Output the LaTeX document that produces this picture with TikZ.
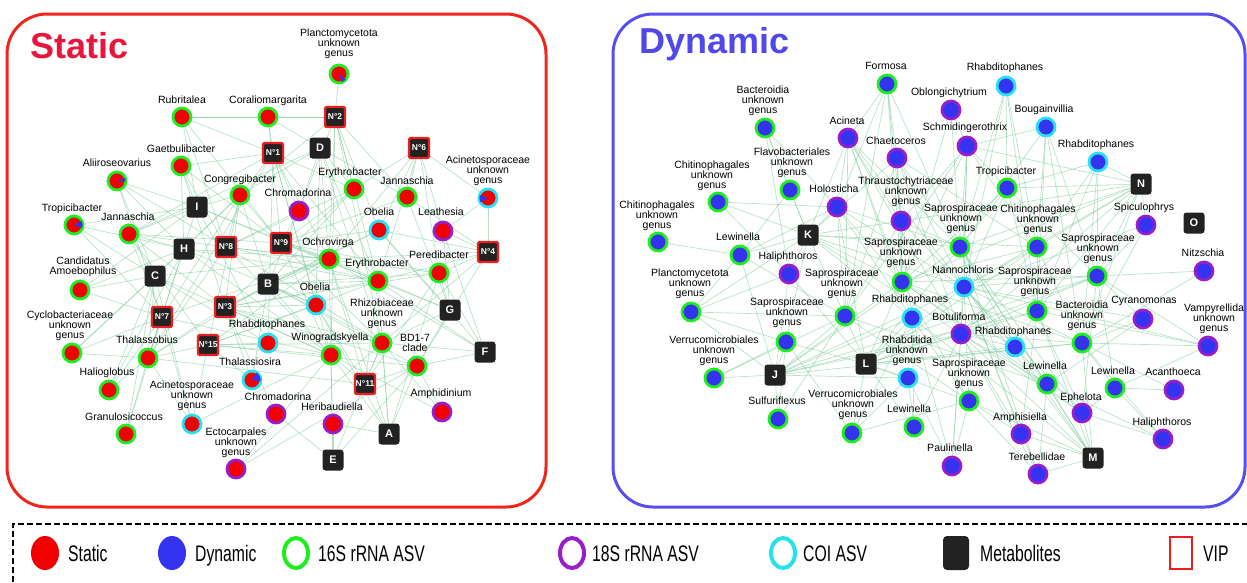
\documentclass[tikz,border=0pt]{standalone}
\usepackage{fontspec}
\setmainfont{Liberation Sans}
\newfontfamily\legfont[FakeStretch=0.7]{Liberation Sans}
\usetikzlibrary{backgrounds}
\definecolor{titlered}{RGB}{232,22,58}
\definecolor{boxred}{RGB}{238,38,30}
\definecolor{titleblue}{RGB}{80,72,232}
\definecolor{boxblue}{RGB}{88,78,240}
\definecolor{nred}{RGB}{240,0,0}
\definecolor{nblue}{RGB}{52,52,240}
\definecolor{ring16}{RGB}{30,238,30}
\definecolor{ring18}{RGB}{150,30,205}
\definecolor{ringcoi}{RGB}{40,225,240}
\definecolor{metab}{RGB}{34,34,34}
\definecolor{vipred}{RGB}{236,30,30}
\definecolor{edgecol}{RGB}{120,200,150}
\tikzset{
  tax/.style={circle, minimum size=18pt, inner sep=0pt, line width=2.8pt},
  g/.style={draw=ring16},
  p/.style={draw=ring18},
  c/.style={draw=ringcoi},
  lbl/.style={anchor=south, inner sep=0pt, align=center, text depth=0pt,
    font=\fontsize{10.5}{10}\selectfont},
  met/.style={rectangle, rounded corners=3pt, fill=metab, minimum size=21pt,
    inner sep=0pt, text=white, font=\bfseries\fontsize{11}{11}\selectfont},
  vip/.style={rectangle, rounded corners=2pt, fill=metab, draw=vipred, line width=2.4pt,
    minimum size=20pt, inner sep=0pt, text=white, font=\bfseries\fontsize{8.5}{8.5}\selectfont},
  edge/.style={draw=edgecol, line width=0.65pt, opacity=0.55},
  panel/.style={rounded corners=40pt, line width=3pt},
  legtxt/.style={anchor=base west, inner sep=0pt, font=\legfont\fontsize{22.5}{22.5}\selectfont},
}
% name, x, y, fill, ring, label x, label baseline y, label text
\newcommand\tx[8]{%
  \node[tax, fill=#4, #5] (#1) at (#2,#3) {};
  \node[lbl] (#1l) at (#6,#7) {#8};}
\newcommand\bluewedge[3]{%
  \fill[nblue] (#1.center) -- ++(#2:8.6pt) arc[start angle=#2, end angle=#3, radius=8.6pt] -- cycle;}
\begin{document}
\begin{tikzpicture}[x=1pt, y=-1pt]
\useasboundingbox (0,0) rectangle (1247,582);
\clip (0,0) rectangle (1247,582);

% panels
\draw[panel, draw=boxred] (7,14) rectangle (546,507);
\draw[panel, draw=boxblue] (613,14) rectangle (1245,507);
\node[anchor=base west, inner sep=0pt, text=titlered, font=\bfseries\fontsize{36}{36}\selectfont] (tstatic) at (30,58) {Static};
\node[anchor=base west, inner sep=0pt, text=titleblue, font=\bfseries\fontsize{36}{36}\selectfont] (tdyn) at (639,53) {Dynamic};

% ---------------- Static panel ----------------
\tx{s1}{339}{74}{nred}{g}{339}{57}{Planctomycetota\\unknown\\genus}
\tx{s2}{182}{117}{nred}{g}{182}{104}{Rubritalea}
\tx{s3}{268}{117}{nred}{g}{268}{104}{Coraliomargarita}
\tx{s4}{181}{166}{nred}{g}{181}{153}{Gaetbulibacter}
\tx{s5}{117}{181}{nred}{g}{117}{167}{Aliiroseovarius}
\tx{s6}{240}{195}{nred}{g}{240}{183}{Congregibacter}
\tx{s7}{354}{189}{nred}{g}{350}{176}{Erythrobacter}
\tx{s8}{407}{197}{nred}{g}{407}{185}{Jannaschia}
\tx{s9}{488}{198}{nred}{c}{488}{184}{Acinetosporaceae\\unknown\\genus}
\tx{s10}{299}{211}{nred}{p}{298}{197}{Chromadorina}
\tx{s11}{74}{225}{nred}{g}{72}{212}{Tropicibacter}
\tx{s12}{129}{234}{nred}{g}{128}{221}{Jannaschia}
\tx{s13}{379}{230}{nred}{c}{379}{216}{Obelia}
\tx{s14}{443}{231}{nred}{p}{441}{216}{Leathesia}
\tx{s15}{329}{259}{nred}{g}{328}{246}{Ochrovirga}
\tx{s16}{439}{273}{nred}{g}{439}{259}{Peredibacter}
\tx{s17}{378}{281}{nred}{g}{377}{267}{Erythrobacter}
\tx{s18}{80}{290}{nred}{g}{83}{275}{Candidatus\\Amoebophilus}
\tx{s19}{316}{305}{nred}{c}{315}{291}{Obelia}
\tx{s20}{382}{343}{nred}{g}{382}{327}{Rhizobiaceae\\unknown\\genus}
\tx{s21}{72}{353}{nred}{g}{70}{339}{Cyclobacteriaceae\\unknown\\genus}
\tx{s22}{148}{358}{nred}{g}{147}{344}{Thalassobius}
\tx{s23}{268}{343}{nred}{c}{267}{328}{Rhabditophanes}
\tx{s24}{331}{355}{nred}{g}{330}{341}{Winogradskyella}
\tx{s25}{417}{366}{nred}{g}{415}{352}{BD1-7\\clade}
\tx{s26}{109}{390}{nred}{g}{107}{376}{Halioglobus}
\tx{s27}{252}{380}{nred}{c}{250}{366}{Thalassiosira}
\tx{s28}{442}{412}{nred}{p}{441}{397}{Amphidinium}
\tx{s29}{192}{424}{nred}{c}{192}{409}{Acinetosporaceae\\unknown\\genus}
\tx{s30}{276}{414}{nred}{p}{278}{401}{Chromadorina}
\tx{s31}{333}{424}{nred}{p}{332}{411}{Heribaudiella}
\tx{s32}{126}{434}{nred}{g}{124}{421}{Granulosicoccus}
\tx{s33}{236}{469}{nred}{p}{236}{456}{Ectocarpales\\unknown\\genus}
\bluewedge{s11}{-20}{30}
\bluewedge{s27}{-10}{60}
\bluewedge{s9}{160}{210}
\bluewedge{s1}{-70}{-40}
\bluewedge{s5}{0}{20}

\node[vip] (v1) at (273,153) {N°1};
\node[vip] (v2) at (335,117) {N°2};
\node[vip] (v3) at (225,307) {N°3};
\node[vip] (v4) at (488,252) {N°4};
\node[vip] (v6) at (419,148) {N°6};
\node[vip] (v7) at (162,317) {N°7};
\node[vip] (v8) at (226,247) {N°8};
\node[vip] (v9) at (281,243) {N°9};
\node[vip] (v11) at (365,384) {N°11};
\node[vip] (v15) at (208,345) {N°15};
\node[met] (mA) at (389,434) {A};
\node[met] (mB) at (268,284) {B};
\node[met] (mC) at (155,276) {C};
\node[met] (mD) at (320,148) {D};
\node[met] (mE) at (333,460) {E};
\node[met] (mF) at (485,352) {F};
\node[met] (mG) at (450,310) {G};
\node[met] (mH) at (184,249) {H};
\node[met] (mI) at (197,207) {I};

% ---------------- Dynamic panel ----------------
\tx{d1}{887}{84}{nblue}{g}{886}{70}{Formosa}
\tx{d2}{765}{128}{nblue}{g}{763}{114}{Bacteroidia\\unknown\\genus}
\tx{d3}{848}{138}{nblue}{p}{847}{125}{Acineta}
\tx{d4}{897}{158}{nblue}{p}{896}{145}{Chaetoceros}
\tx{d5}{790}{190}{nblue}{g}{792}{176}{Flavobacteriales\\unknown\\genus}
\tx{d6}{718}{202}{nblue}{g}{712}{189}{Chitinophagales\\unknown\\genus}
\tx{d7}{837}{207}{nblue}{p}{834}{193}{Holosticha}
\tx{d8}{658}{242}{nblue}{g}{657}{229}{Chitinophagales\\unknown\\genus}
\tx{d10}{901}{221}{nblue}{p}{906}{205}{Thraustochytriaceae\\unknown\\genus}
\tx{d11}{1006}{86}{nblue}{c}{1005}{71}{Rhabditophanes}
\tx{d12}{951}{110}{nblue}{p}{949}{96}{Oblongichytrium}
\tx{d13}{1046}{127}{nblue}{c}{1044}{113}{Bougainvillia}
\tx{d14}{967}{146}{nblue}{p}{965}{131}{Schmidingerothrix}
\tx{d15}{1098}{162}{nblue}{c}{1096}{148}{Rhabditophanes}
\tx{d16}{1007}{188}{nblue}{g}{1006}{175}{Tropicibacter}
\tx{d18}{1146}{225}{nblue}{p}{1144}{211}{Spiculophrys}
\tx{d20}{960}{247}{nblue}{g}{961}{232}{Saprospiraceae\\unknown\\genus}
\tx{d21}{1037}{247}{nblue}{g}{1038}{233}{Chitinophagales\\unknown\\genus}
\tx{d22}{1097}{276}{nblue}{g}{1098}{262}{Saprospiraceae\\unknown\\genus}
\tx{d23}{1204}{271}{nblue}{p}{1203}{257}{Nitzschia}
\tx{d24}{902}{282}{nblue}{g}{901}{266}{Saprospiraceae\\unknown\\genus}
\tx{d25}{789}{274}{nblue}{p}{788}{260}{Haliphthoros}
\tx{d26}{964}{287}{nblue}{c}{963}{274}{Nannochloris}
\tx{d27}{845}{316}{nblue}{g}{842}{297}{Saprospiraceae\\unknown\\genus}
\tx{d28}{912}{318}{nblue}{c}{910}{303}{Rhabditophanes}
\tx{d29}{961}{334}{nblue}{p}{959}{321}{Botuliforma}
\tx{d30}{786}{342}{nblue}{g}{787}{326}{Saprospiraceae\\unknown\\genus}
\tx{d31}{740}{255}{nblue}{g}{738}{241}{Lewinella}
\tx{d32}{691}{312}{nblue}{g}{690}{297}{Planctomycetota\\unknown\\genus}
\tx{d33}{714}{378}{nblue}{g}{714}{364}{Verrucomicrobiales\\unknown\\genus}
\tx{d36}{908}{378}{nblue}{c}{907}{364}{Rhabditida\\unknown\\genus}
\tx{d37}{778}{419}{nblue}{g}{777}{405}{Sulfuriflexus}
\tx{d38}{852}{433}{nblue}{g}{853}{418}{Verrucomicrobiales\\unknown\\genus}
\tx{d39}{914}{427}{nblue}{g}{909}{413}{Lewinella}
\tx{d40}{1143}{319}{nblue}{p}{1144}{304}{Cyranomonas}
\tx{d41}{1208}{346}{nblue}{p}{1214}{332}{Vampyrellida\\unknown\\genus}
\tx{d42}{1037}{311}{nblue}{g}{1035}{295}{Saprospiraceae\\unknown\\genus}
\tx{d43}{1082}{343}{nblue}{g}{1082}{329}{Bacteroidia\\unknown\\genus}
\tx{d44}{1015}{347}{nblue}{c}{1013}{335}{Rhabditophanes}
\tx{d45}{969}{401}{nblue}{g}{969}{387}{Saprospiraceae\\unknown\\genus}
\tx{d46}{1047}{384}{nblue}{g}{1045}{370}{Lewinella}
\tx{d47}{1115}{388}{nblue}{g}{1113}{375}{Lewinella}
\tx{d48}{1174}{390}{nblue}{p}{1173}{376}{Acanthoeca}
\tx{d49}{1082}{413}{nblue}{p}{1081}{401}{Ephelota}
\tx{d50}{1021}{434}{nblue}{p}{1020}{421}{Amphisiella}
\tx{d51}{1163}{439}{nblue}{p}{1162}{426}{Haliphthoros}
\tx{d52}{952}{466}{nblue}{p}{950}{452}{Paulinella}
\tx{d54}{1038}{474}{nblue}{p}{1037}{461}{Terebellidae}

\node[met] (mK) at (808,235) {K};
\node[met] (mJ) at (775,375) {J};
\node[met] (mL) at (866,364) {L};
\node[met] (mN) at (1141,184) {N};
\node[met] (mO) at (1194,223) {O};
\node[met] (mM) at (1093,458) {M};

% ---------------- edges ----------------
\begin{scope}[on background layer]
\foreach \a/\l in {
  v1/{s2,s3,s4,s6,s7,s10,s12,s15,s17,s19,s22,s24,s23},
  v2/{s1,s2,s3,s7,s8,s10,s13,s15,s17,s6,s20,s24},
  mD/{s3,s6,s7,s8,s10,s15,s17,s12,s19,s20},
  v6/{s7,s8,s9,s13,s14,s15,s17,s16},
  mI/{s2,s4,s5,s6,s11,s12,s15,s17,s18,s22,s23},
  mH/{s4,s5,s12,s11,s6,s15,s17,s19,s22,s26,s24,s21,s18},
  v8/{s2,s4,s5,s6,s7,s10,s12,s15,s16,s17,s22,s24,s20},
  v9/{s2,s3,s4,s6,s7,s8,s10,s12,s13,s15,s17,s16,s20,s24},
  v4/{s9,s13,s14,s16,s17,s8,s20,s25,s15},
  mC/{s5,s11,s12,s18,s21,s22,s6,s15,s24,s23,s32,s26,s29},
  mB/{s6,s7,s10,s13,s15,s16,s17,s19,s20,s22,s24,s25,s27},
  mG/{s14,s16,s17,s13,s20,s25,s15,s8},
  v3/{s4,s6,s7,s12,s15,s16,s17,s19,s20,s22,s24,s25,s27,s13,s30},
  v7/{s5,s11,s12,s18,s21,s22,s26,s32,s6,s15,s24,s29},
  v15/{s12,s6,s15,s17,s19,s20,s22,s24,s25,s27,s29,s23},
  mF/{s16,s17,s20,s25,s14,s13,s15},
  v11/{s15,s17,s19,s20,s24,s25,s22,s16},
  mA/{s20,s24,s25,s15,s17,s19,s31,s16},
  mE/{s31,s24,s25,s20,s30,s15},
  s33/{s24,s25,s20},
  s32/{s22},
  s26/{s22},
  s29/{s22,s24},
  s28/{s25,s20,s24},
  s21/{s22},
  s9/{s14},
  s2/{s3},
  mK/{d2,d5,d6,d7,d3,d4,d10,d20,d24,d25,d27,d28,d30,d31,d26,d21,d29,d32},
  mJ/{d31,d30,d27,d24,d28,d25,d26,d20,d33,d37,d36,d29,d42,d22,d43,d32},
  mL/{d27,d24,d20,d26,d28,d29,d36,d38,d39,d42,d43,d44,d45,d22,d21,d7,d25,d30},
  mN/{d16,d20,d21,d22,d26,d24,d42,d18,d10,d14,d29,d15,d43},
  mM/{d49,d46,d45,d43,d42,d29,d26,d50,d54,d28,d20,d44},
  d1/{d7,d10,d24,d20,d27,d4,d3},
  d3/{d7,d10,d24,d26,d27,d28,d20,d29},
  d4/{d10,d20,d24,d26,d21,d29,d27},
  d11/{d16,d21,d26,d20,d42},
  d12/{d14,d20,d24},
  d13/{d21,d42,d22,d43,d14,d20},
  d14/{d16,d20,d21,d24,d26,d10,d27,d29},
  d15/{d21,d22,d42,d43,d16},
  d6/{d7,d25},
  d8/{d31},
  d2/{d5,d7,d25},
  d32/{d31,d30,d25,d27},
  d33/{d30,d27},
  d37/{d30,d27},
  d38/{d28,d36,d30,d45},
  d39/{d36,d28,d29},
  d40/{d43,d22,d46,d26},
  d41/{d43,d22,d47,d26,d42},
  d47/{d43,d22,d49,d48},
  d48/{d43},
  d51/{d47,d43,d49,d46},
  d52/{d45,d36,d28,d29,d26},
  d54/{d46,d45,d26,d20,d29},
  d50/{d45,d29,d26,d42},
  d23/{d22,d43},
  d18/{d22,d43,d26},
  d44/{d20,d24,d26,d29,d42},
  d46/{d26,d20,d24,d29,d27},
  d49/{d26,d20,d42,d22,d24,d29},
  d45/{d24,d27,d28,d26},
  d31/{d7,d5,d27},
  d10/{d26,d20,d24,d28,d27},
  d7/{d27,d24,d28,d26,d20},
  d16/{d26,d20,d24,d42,d22},
  d21/{d26,d24,d42,d29,d43},
  d22/{d26,d24,d29},
  d43/{d26,d29,d24}} {
  \foreach \b in \l { \draw[edge] (\a) -- (\b); }
}
\end{scope}

% ---------------- legend ----------------
\draw[line width=1.2pt, dash pattern=on 6pt off 3pt] (13,600) -- (13,524) -- (1260,524);
\fill[nred] (45,553) ellipse [x radius=14, y radius=17];
\node[legtxt] (lg1) at (68,561) {Static};
\fill[nblue] (172,553) ellipse [x radius=14, y radius=17];
\node[legtxt] (lg2) at (195,561) {Dynamic};
\draw[ring16, line width=4pt] (296,553) ellipse [x radius=12, y radius=15];
\node[legtxt] (lg3) at (318,561) {16S rRNA ASV};
\draw[ring18, line width=4pt] (572,553) ellipse [x radius=12, y radius=15];
\node[legtxt] (lg4) at (592,561) {18S rRNA ASV};
\draw[ringcoi, line width=4pt] (783,553) ellipse [x radius=12, y radius=15];
\node[legtxt] (lg5) at (803,561) {COI ASV};
\node[rectangle, rounded corners=4pt, fill=metab, minimum width=26pt, minimum height=34pt] (lgm) at (956,553) {};
\node[legtxt] (lg6) at (980,561) {Metabolites};
\node[rectangle, draw=vipred, line width=2.5pt, minimum width=22pt, minimum height=32pt] (lgv) at (1181,553) {};
\node[legtxt] (lg7) at (1203,561) {VIP};
\end{tikzpicture}
\end{document}
